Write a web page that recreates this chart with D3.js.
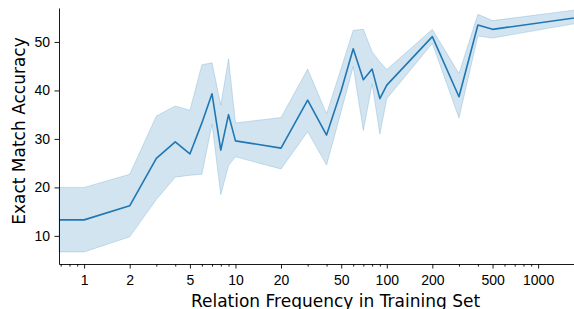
<!DOCTYPE html>
<html>
<head>
<meta charset="utf-8">
<script src="https://cdn.jsdelivr.net/npm/d3@7"></script>
<style>
  body { margin: 0; background: #fff; }
  svg { display: block; font-family: 'DejaVu Sans', sans-serif; }
  .axis path, .axis line { stroke: #000; stroke-width: 0.9; }
  .axis text { fill: #000; font-size: 14px; }
</style>
</head>
<body>
<div id="chart"></div>
<script>
// relation frequency (0 is clipped by the log scale, like matplotlib does)
const frequency = [0, 1, 2, 3, 4, 5, 6, 7, 8, 9, 10, 20, 30, 40, 50, 60, 70, 80, 90, 100, 200, 300, 400, 500, 2100];
const accuracy = [13.3, 13.3, 16.2, 26.0, 29.4, 26.9, 33.3, 39.3, 27.7, 35.0, 29.6, 28.1, 38.0, 30.8, 40.0, 48.6, 42.2, 44.4, 38.3, 41.1, 51.1, 38.7, 53.5, 52.6, 55.3];
const upperCI = [20.0, 20.0, 22.7, 34.7, 36.8, 35.9, 45.3, 45.7, 37.0, 46.5, 33.3, 34.4, 44.4, 35.2, 44.6, 52.4, 52.6, 48.0, 45.9, 44.3, 52.6, 43.5, 55.7, 54.4, 56.9];
const lowerCI = [6.7, 6.7, 9.8, 17.5, 22.1, 22.5, 22.7, 33.0, 18.5, 24.5, 26.3, 23.8, 31.5, 24.6, 35.7, 44.9, 31.7, 41.3, 31.0, 38.3, 49.7, 34.3, 51.2, 50.8, 54.2];
const xTicks = [1, 2, 5, 10, 20, 50, 100, 200, 500, 1000];
const yTicks = [10, 20, 30, 40, 50];

const width = 574, height = 309;
// the axes run past the right edge of the picture (it was cropped)
const margin = { top: 8, right: -38, bottom: 45, left: 59 };
const color = '#1f77b4';

const rows = frequency.map((f, i) => ({ f, m: accuracy[i], hi: upperCI[i], lo: lowerCI[i] }));

// log domain with 5% padding on each side (in log space)
const pos = frequency.filter(f => f > 0);
const l0 = Math.log10(d3.min(pos)), l1 = Math.log10(d3.max(pos));
const pad = (l1 - l0) * 0.05;
const x = d3.scaleLog()
  .domain([Math.pow(10, l0 - pad), Math.pow(10, l1 + pad)])
  .range([margin.left, width - margin.right]);
const y = d3.scaleLinear().domain([4.2, 57]).range([height - margin.bottom, margin.top]);

const xv = f => x(Math.max(f, x.domain()[0]));

const svg = d3.select('#chart').append('svg')
  .attr('width', width)
  .attr('height', height);

svg.append('path')
  .datum(rows)
  .attr('fill', color)
  .attr('fill-opacity', 0.2)
  .attr('stroke', color)
  .attr('stroke-opacity', 0.2)
  .attr('stroke-width', 1)
  .attr('d', d3.area()
    .x(d => xv(d.f))
    .y0(d => y(d.lo))
    .y1(d => y(d.hi)));

svg.append('path')
  .datum(rows)
  .attr('fill', 'none')
  .attr('stroke', color)
  .attr('stroke-width', 1.6)
  .attr('stroke-linejoin', 'round')
  .attr('d', d3.line()
    .x(d => xv(d.f))
    .y(d => y(d.m)));

// minor ticks on the log axis
const minor = x.ticks().filter(t => !xTicks.includes(t));
svg.append('g')
  .attr('class', 'axis')
  .attr('transform', 'translate(0,' + (height - margin.bottom) + ')')
  .call(d3.axisBottom(x).tickValues(minor).tickSize(2.6).tickFormat(''))
  .call(g => g.select('.domain').remove());

svg.append('g')
  .attr('class', 'axis')
  .attr('transform', 'translate(0,' + (height - margin.bottom) + ')')
  .call(d3.axisBottom(x).tickValues(xTicks).tickSize(4.5).tickPadding(6.5).tickFormat(d3.format('d')).tickSizeOuter(0));

svg.append('g')
  .attr('class', 'axis')
  .attr('transform', 'translate(' + margin.left + ',0)')
  .call(d3.axisLeft(y).tickValues(yTicks).tickSize(4.5).tickPadding(4.5).tickSizeOuter(0));

svg.append('text')
  .attr('x', (margin.left + width - margin.right) / 2)
  .attr('y', 306.5)
  .attr('text-anchor', 'middle')
  .attr('font-size', 17)
  .text('Relation Frequency in Training Set');

svg.append('text')
  .attr('transform', 'translate(24.5,131) rotate(-90)')
  .attr('text-anchor', 'middle')
  .attr('font-size', 17)
  .text('Exact Match Accuracy');
</script>
</body>
</html>
